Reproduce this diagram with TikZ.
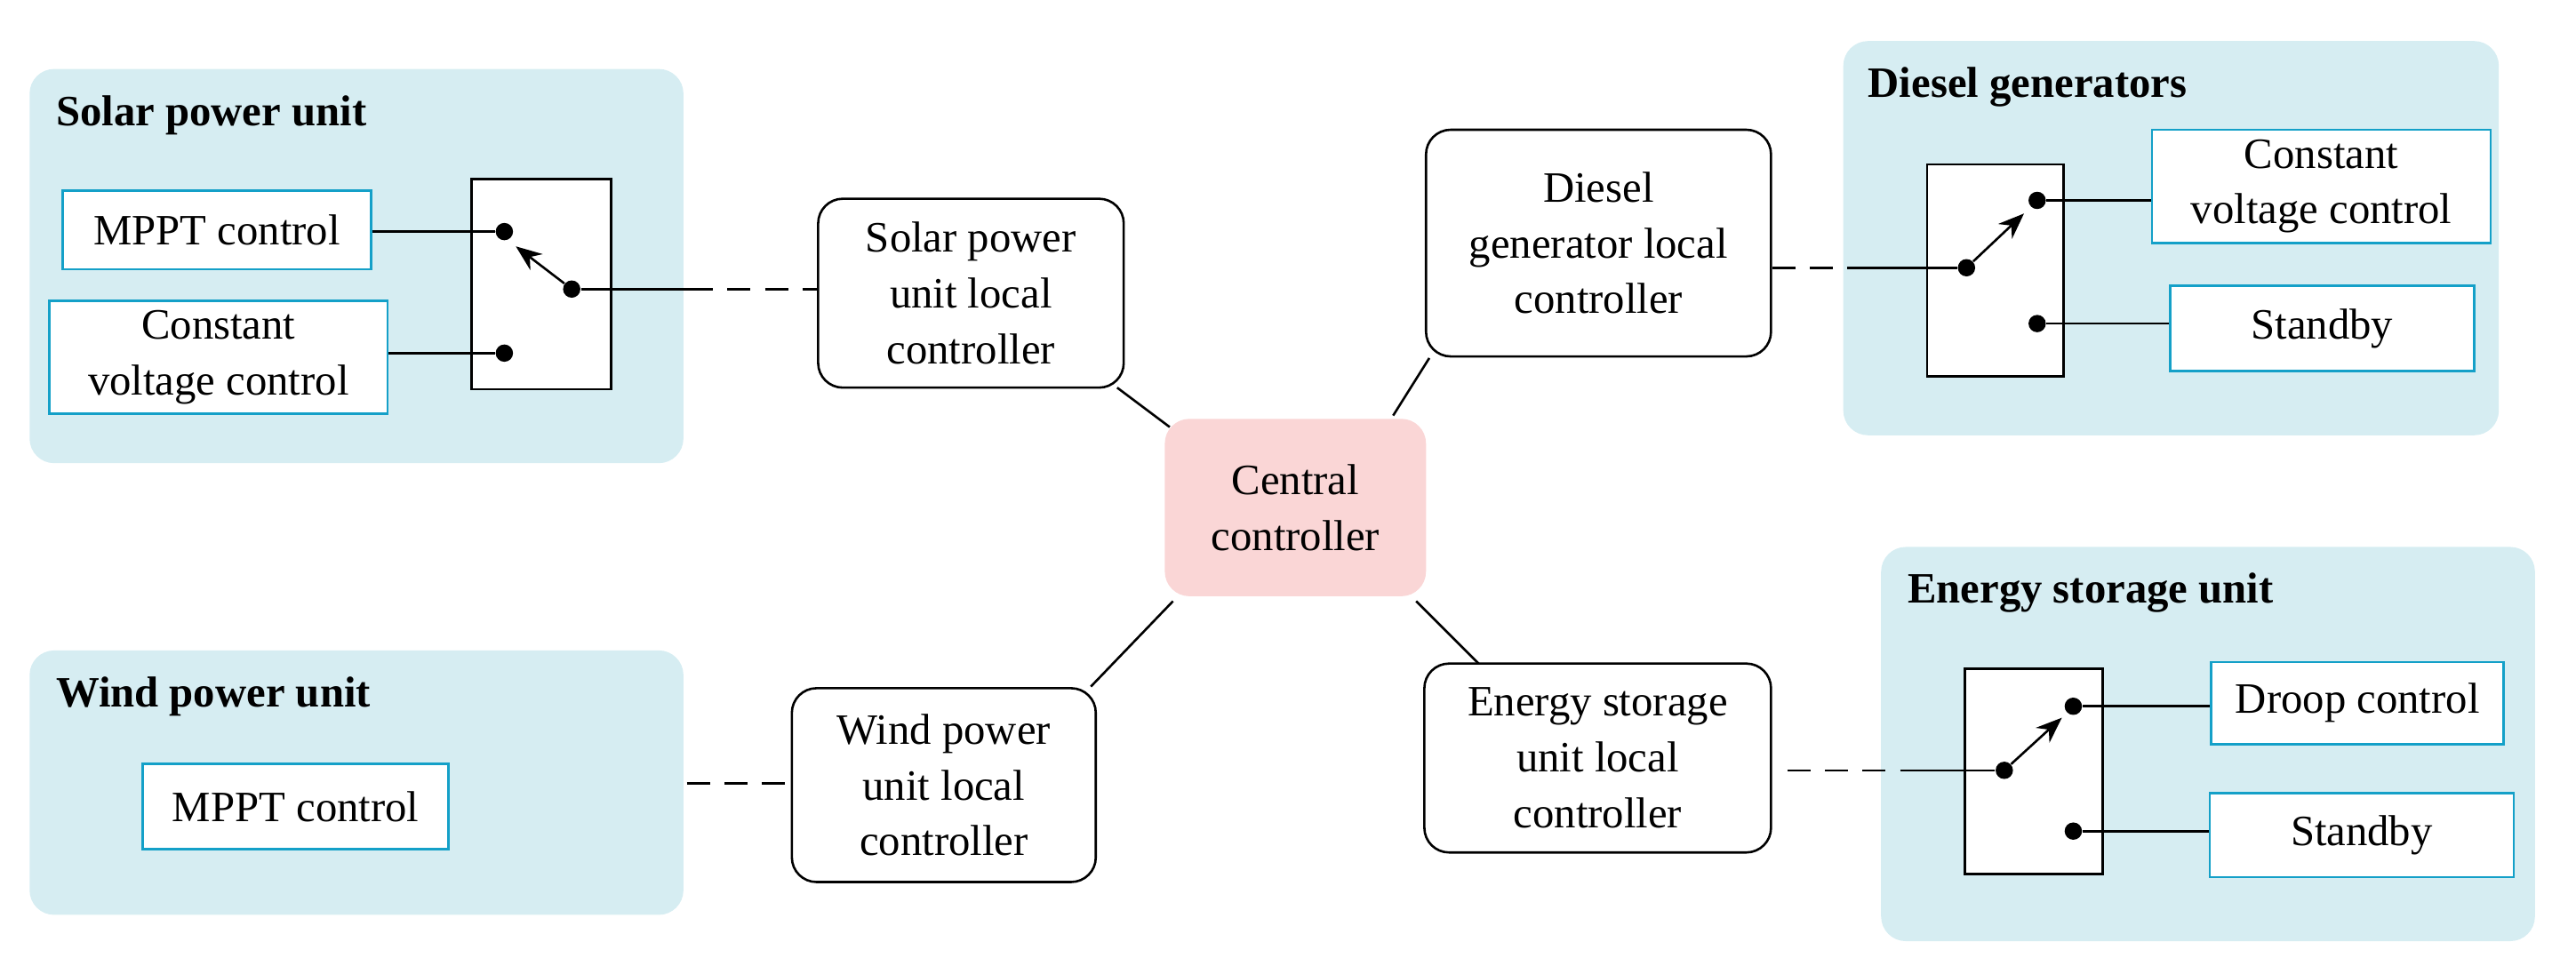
\documentclass[tikz,border=0pt]{standalone}
\usepackage{fontspec}
\setmainfont{Liberation Serif}
\usetikzlibrary{arrows.meta}
\definecolor{bgblue}{RGB}{214,237,242}
\definecolor{cyanb}{RGB}{20,160,200}
\definecolor{pinkc}{RGB}{250,214,214}
\begin{document}
\begin{tikzpicture}[x=0.02cm,y=-0.02cm,
  font=\fontsize{15}{19.3}\selectfont,
  bg/.style={fill=bgblue,draw=none,rounded corners=0.3cm},
  cbox/.style={draw=cyanb,line width=0.8pt,fill=white,align=center,inner sep=0pt},
  ctrl/.style={draw=black,line width=0.8pt,rounded corners=0.3cm,fill=white,align=center,inner sep=0pt},
  sw/.style={draw=black,line width=0.8pt,fill=white},
  dot/.style={circle,fill=black,inner sep=0pt,minimum size=6pt},
  ttl/.style={anchor=west,font=\fontsize{15}{19}\selectfont\bfseries},
  ln/.style={line width=0.8pt},
  dl/.style={line width=0.8pt,dash pattern=on 8pt off 5pt},
  arr/.style={line width=0.8pt,-{Stealth[length=9pt,width=7pt]}}]
\useasboundingbox (0,0) rectangle (1568,588);
% backgrounds
\fill[bg] (18,42) rectangle (416,282);
\fill[bg] (1122,25) rectangle (1521,265);
\fill[bg] (18,396) rectangle (416,557);
\fill[bg] (1145,333) rectangle (1543,573);
\node[ttl] (t1) at (28,70) {Solar power unit};
\node[ttl] (t2) at (1131,53) {Diesel generators};
\node[ttl] (t3) at (28,424) {Wind power unit};
\node[ttl] (t4) at (1155,361) {Energy storage unit};
% solar
\node[cbox,minimum width=188*0.02cm,minimum height=48*0.02cm] (smppt) at (132,140) {MPPT control};
\node[cbox,minimum width=206*0.02cm,minimum height=69*0.02cm] (scv) at (133,217.5) {Constant\\voltage control};
\node[sw,minimum width=85*0.02cm,minimum height=128*0.02cm] (ssw) at (329.5,173) {};
\node[dot] (sd1) at (307,141) {};
\node[dot] (sd2) at (307,215) {};
\node[dot] (sd3) at (348,176) {};
\draw[ln] (smppt.east|-sd1) -- (sd1);
\draw[ln] (scv.east|-sd2) -- (sd2);
\draw[arr] (sd3) -- (314,150);
\coordinate (sc1) at (420,176);
\draw[ln] (sd3) -- (sc1);
\node[ctrl,minimum width=186*0.02cm,minimum height=115*0.02cm] (sctl) at (591,178.5) {Solar power\\unit local\\controller};
\draw[dl] (sc1) -- (sctl.west|-sc1);
% central
\node[fill=pinkc,rounded corners=0.3cm,minimum width=159*0.02cm,minimum height=108*0.02cm,align=center,inner sep=0pt] (cc) at (788.5,309) {Central\\controller};
% diesel
\node[ctrl,minimum width=210*0.02cm,minimum height=138*0.02cm] (dctl) at (973,148) {Diesel\\generator local\\controller};
\node[sw,minimum width=83*0.02cm,minimum height=129*0.02cm] (dsw) at (1214.5,164.5) {};
\node[dot] (dd1) at (1197,163) {};
\node[dot] (dd2) at (1240,122) {};
\node[dot] (dd3) at (1240,197) {};
\node[cbox,minimum width=206*0.02cm,minimum height=69*0.02cm] (dcv) at (1413,113.5) {Constant\\voltage control};
\node[cbox,minimum width=185*0.02cm,minimum height=52*0.02cm] (dsb) at (1413.5,200) {Standby};
\draw[ln] (dd2) -- (dcv.west|-dd2);
\draw[ln] (dd3) -- (dsb.west|-dd3);
\draw[arr] (dd1) -- (1232,130);
\coordinate (dc1) at (1135,163);
\draw[ln] (dd1) -- (dc1);
\draw[dl] (dctl.east|-dc1) -- (dc1);
% wind
\node[cbox,minimum width=186*0.02cm,minimum height=52*0.02cm] (wmppt) at (180,491) {MPPT control};
\node[ctrl,minimum width=185*0.02cm,minimum height=118*0.02cm] (wctl) at (574.5,478) {Wind power\\unit local\\controller};
\coordinate (wc1) at (418,477);
\draw[dl] (wc1) -- (wctl.west|-wc1);
% energy
\node[ctrl,minimum width=211*0.02cm,minimum height=115*0.02cm] (ectl) at (972.5,461.5) {Energy storage\\unit local\\controller};
\node[sw,minimum width=84*0.02cm,minimum height=125*0.02cm] (esw) at (1238,469.5) {};
\node[dot] (ed1) at (1220,469) {};
\node[dot] (ed2) at (1262,430) {};
\node[dot] (ed3) at (1262,506) {};
\node[cbox,minimum width=178*0.02cm,minimum height=50*0.02cm] (edr) at (1435,428) {Droop control};
\node[cbox,minimum width=185*0.02cm,minimum height=51*0.02cm] (esb) at (1437.5,508.5) {Standby};
\draw[ln] (ed2) -- (edr.west|-ed2);
\draw[ln] (ed3) -- (esb.west|-ed3);
\draw[arr] (ed1) -- (1255,437);
\coordinate (ec1) at (1168,469);
\draw[ln] (ed1) -- (ec1);
\coordinate (ec0) at (1088,469);
\draw[dl] (ec0) -- (ec1);
% spokes
\draw[ln] (680,236) -- (712,260);
\draw[ln] (870,218) -- (848,253);
\draw[ln] (664,418) -- (714,366);
\draw[ln] (900,404) -- (862,366);
\end{tikzpicture}
\end{document}
